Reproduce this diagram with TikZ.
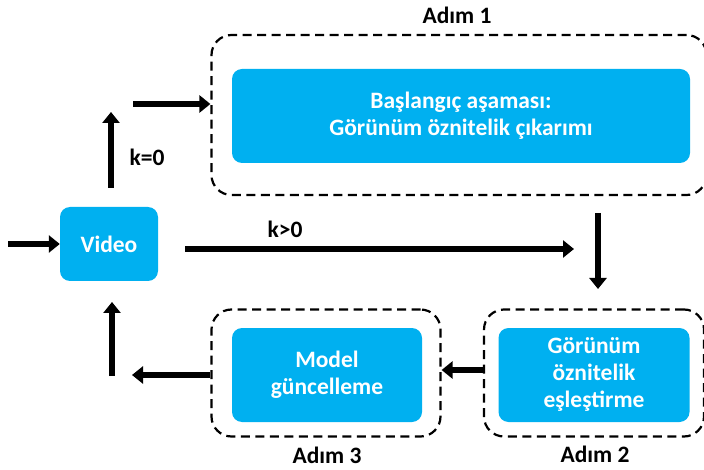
\documentclass[tikz,border=0pt]{standalone}
\usepackage{fontspec}
\setmainfont{Carlito}
\usetikzlibrary{arrows.meta}
\definecolor{boxblue}{HTML}{00B0F0}
\tikzset{
  x=1pt, y=-1pt,
  bluebox/.style={draw=none, fill=boxblue, rounded corners=10pt, text=white,
    font=\bfseries\fontsize{23.5}{27}\selectfont, align=center, inner sep=0pt},
  stage/.style={draw=black, line width=2.2pt, dash pattern=on 9pt off 5.5pt,
    rounded corners=20pt, inner sep=0pt},
  steplabel/.style={font=\bfseries\fontsize{23.5}{27}\selectfont, text=black},
  flow/.style={line width=6.5pt, -{Triangle[length=11pt,width=17pt]}},
  note/.style={font=\bfseries\fontsize{23.5}{27}\selectfont, text=black}
}
\begin{document}
\begin{tikzpicture}
\useasboundingbox (0,0) rectangle (704,470);
\fill[white] (0,0) rectangle (704,470);

% dashed stage frames
\node[stage, minimum width=495pt, minimum height=160pt] (s1) at (459,115) {};
\node[stage, minimum width=220pt, minimum height=127pt] (s2) at (594,373) {};
\node[stage, minimum width=229pt, minimum height=127pt] (s3) at (326,373) {};

% stage labels
\node[steplabel] (l1) at (457,15) {Adım 1};
\node[steplabel] (l2) at (595,454) {Adım 2};
\node[steplabel] (l3) at (327,455) {Adım 3};

% blue process boxes
\node[bluebox, minimum width=458pt, minimum height=94pt] (b1) at (461,116)
  {Başlangıç aşaması:\\Görünüm öznitelik çıkarımı};
\node[bluebox, minimum width=191pt, minimum height=94pt] (b2) at (594,375)
  {Görünüm\\öznitelik\\eşleştirme};
\node[bluebox, minimum width=190pt, minimum height=94pt] (b3) at (327,375)
  {Model\\güncelleme};
\node[bluebox, minimum width=98pt, minimum height=74pt] (vid) at (109,244) {Video};

% arrow end points
\coordinate (in) at (8,244);
\coordinate (upA) at (111,188);
\coordinate (upB) at (111,112);
\coordinate (topA) at (133,104);
\coordinate (kA) at (185,249);
\coordinate (kB) at (574,249);
\coordinate (dnA) at (598,213);
\coordinate (dnB) at (598,289);
\coordinate (backA) at (132,375);
\coordinate (upC) at (112,376);
\coordinate (upD) at (112,302);

% connectors
\draw[flow] (in) -- (vid.west);
\draw[flow] (upA) -- (upB);
\draw[flow] (topA) -- (topA -| s1.west);
\draw[flow] (kA) -- (kB);
\draw[flow] (dnA) -- (dnB);
\draw[flow] (s2.west |- 0,370) -- (s3.east |- 0,370);
\draw[flow] (s3.west |- 0,375) -- (backA);
\draw[flow] (upC) -- (upD);

% branch labels
\node[note] (k0) at (147,157) {k=0};
\node[note] (k1) at (285,229) {k>0};
\end{tikzpicture}
\end{document}
